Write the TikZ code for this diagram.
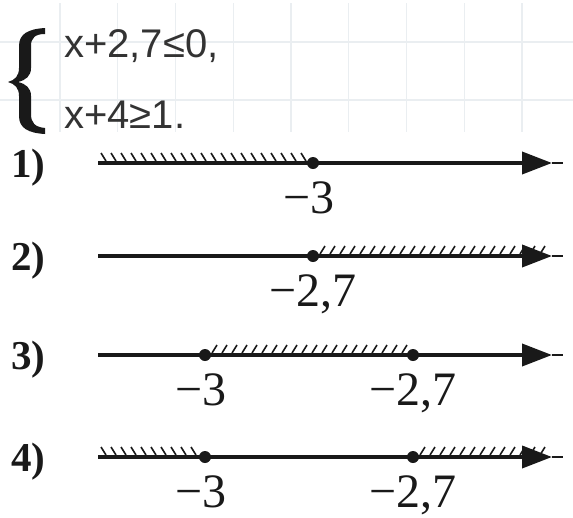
\documentclass[tikz,border=0pt]{standalone}
\usepackage{fontspec}
\setmainfont{Liberation Serif}
\newfontfamily\sysfont{Liberation Sans}
\usetikzlibrary{arrows.meta}
\definecolor{gridc}{RGB}{234,238,241}
\definecolor{ink}{RGB}{25,25,25}

\tikzset{
  gridline/.style={draw=gridc, line width=1.2pt},
  axis/.style={draw=ink, line width=3.8pt, -{Triangle[length=30pt,width=22pt]}},
  tail/.style={draw=ink, line width=1.2pt},
  hatch/.style={draw=ink, line width=1.6pt},
  num/.style={font=\fontsize{48}{48}\selectfont, text=ink, inner sep=0pt, anchor=base},
  item/.style={font=\fontsize{41}{41}\selectfont\bfseries, text=ink, inner sep=0pt, anchor=base west},
  sys/.style={font=\sysfont\fontsize{40}{40}\selectfont, text=black!80, inner sep=0pt, anchor=base west},
}

\begin{document}
\begin{tikzpicture}[x=1pt,y=-1pt]
  \useasboundingbox (0,0) rectangle (573,517);

  % squared paper behind the system
  \foreach \gx in {60,117.75,...,560}
    \draw[gridline] (\gx,3) -- (\gx,132);
  \foreach \gy in {42,100}
    \draw[gridline] (0,\gy) -- (573,\gy);

  % the system
  \fill[ink] (45,28) .. controls (28,29) and (19,34) .. (19,46) -- (19,68)
    .. controls (19,76) and (15,80) .. (8,82) .. controls (15,84) and (19,88) .. (19,96)
    -- (19,116) .. controls (19,128) and (28,133) .. (45,134) -- (45,128)
    .. controls (35,127) and (31,123) .. (31,114) -- (31,96)
    .. controls (31,88) and (26,84) .. (18,82) .. controls (26,80) and (31,76) .. (31,68)
    -- (31,46) .. controls (31,38) and (35,34) .. (45,34) -- cycle;
  \node[sys] (ineqA) at (64,57) {x+2,7≤0,};
  \node[sys] (ineqB) at (64,128) {x+4≥1.};

  % 1)
  \coordinate (s1) at (98,163);
  \coordinate (t1) at (552,163);
  \coordinate (e1) at (563,163);
  \coordinate (p1) at (313,163);
  \node[item] (n1) at (11,177) {1)};
  \foreach \hx in {106,116,...,306}
    \draw[hatch] (\hx,161) -- ++(-5,-8);
  \draw[axis] (s1) -- (t1);
  \draw[tail] (t1) -- (e1);
  \fill[ink] (p1) circle (6pt);
  \node[num] (a1) at ([xshift=-4pt,yshift=-50pt]p1) {−3};

  % 2)
  \coordinate (s2) at (98,256);
  \coordinate (t2) at (552,256);
  \coordinate (e2) at (563,256);
  \coordinate (p2) at (313,256);
  \node[item] (n2) at (11,270) {2)};
  \foreach \hx in {320,330,...,540}
    \draw[hatch] (\hx,254) -- ++(5,-8);
  \draw[axis] (s2) -- (t2);
  \draw[tail] (t2) -- (e2);
  \fill[ink] (p2) circle (6pt);
  \node[num] (a2) at ([yshift=-50pt]p2) {−2,7};

  % 3)
  \coordinate (s3) at (98,355);
  \coordinate (t3) at (552,355);
  \coordinate (e3) at (563,355);
  \coordinate (p3) at (205,355);
  \coordinate (q3) at (413,355);
  \node[item] (n3) at (11,369) {3)};
  \foreach \hx in {212,222,...,402}
    \draw[hatch] (\hx,353) -- ++(5,-8);
  \draw[axis] (s3) -- (t3);
  \draw[tail] (t3) -- (e3);
  \fill[ink] (p3) circle (6pt);
  \fill[ink] (q3) circle (6pt);
  \node[num] (a3) at ([xshift=-4pt,yshift=-50pt]p3) {−3};
  \node[num] (b3) at ([yshift=-50pt]q3) {−2,7};

  % 4)
  \coordinate (s4) at (98,457);
  \coordinate (t4) at (552,457);
  \coordinate (e4) at (563,457);
  \coordinate (p4) at (205,457);
  \coordinate (q4) at (413,457);
  \node[item] (n4) at (11,471) {4)};
  \foreach \hx in {106,116,...,196}
    \draw[hatch] (\hx,455) -- ++(-5,-8);
  \foreach \hx in {420,430,...,540}
    \draw[hatch] (\hx,455) -- ++(5,-8);
  \draw[axis] (s4) -- (t4);
  \draw[tail] (t4) -- (e4);
  \fill[ink] (p4) circle (6pt);
  \fill[ink] (q4) circle (6pt);
  \node[num] (a4) at ([xshift=-4pt,yshift=-50pt]p4) {−3};
  \node[num] (b4) at ([yshift=-50pt]q4) {−2,7};
\end{tikzpicture}
\end{document}
